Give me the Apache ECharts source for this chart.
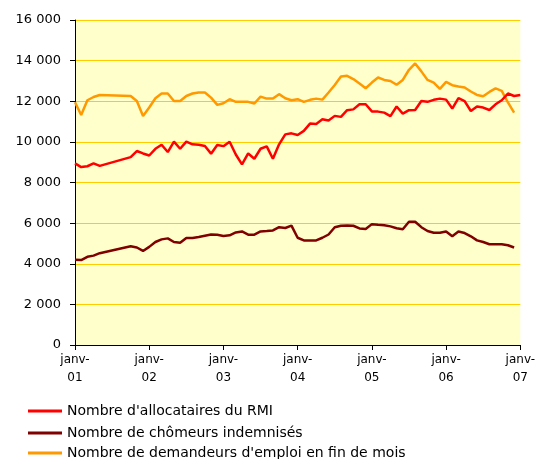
<!DOCTYPE html>
<html>
<head>
<meta charset="utf-8">
<script src="https://cdn.jsdelivr.net/npm/echarts@6/dist/echarts.min.js"></script>
<style>html,body{margin:0;padding:0;background:#fff;}#c{width:538px;height:459px;}</style>
</head>
<body>
<div id="c"></div>
<script>
var monthNames = ['janv','févr','mars','avr','mai','juin','juil','août','sept','oct','nov','déc'];
var years = ['01','02','03','04','05','06','07'];
var seriesNames = ["Nombre d'allocataires du RMI", "Nombre de chômeurs indemnisés", "Nombre de demandeurs d'emploi en fin de mois"];

var rmi = [8940, 8760, 8800, 8940, 8820, null, null, null, null, 9250, 9550, 9430,
  9330, 9660, 9860, 9500, 10010, 9660, 10010, 9880, 9860, 9800, 9420, 9850,
  9790, 10010, 9380, 8890, 9430, 9170, 9660, 9780, 9170, 9880, 10370, 10420,
  10340, 10540, 10900, 10880, 11110, 11050, 11280, 11230, 11560, 11600, 11850, 11850,
  11500, 11490, 11440, 11270, 11740, 11390, 11560, 11570, 12010, 11970, 12070, 12130,
  12080, 11640, 12150, 12010, 11520, 11740, 11690, 11570, 11850, 12050, 12380, 12260,
  12310];

var chomeurs = [4200, 4180, 4340, 4400, 4520, null, null, null, null, 4860, 4800, 4630,
  4830, 5070, 5200, 5250, 5070, 5030, 5270, 5270, 5320, 5380, 5440, 5430,
  5370, 5400, 5540, 5590, 5430, 5430, 5590, 5610, 5640, 5800, 5760, 5880,
  5280, 5150, 5150, 5150, 5280, 5440, 5800, 5870, 5880, 5870, 5740, 5710,
  5950, 5920, 5900, 5840, 5750, 5700, 6070, 6070, 5800, 5610, 5530, 5530,
  5590, 5350, 5590, 5510, 5350, 5150, 5070, 4960, 4960, 4960, 4910, 4800];

var demandeurs = [11950, 11320, 12050, 12210, 12310, null, null, null, null, 12260, 12010, 11270,
  11690, 12150, 12380, 12380, 12010, 12010, 12260, 12380, 12430, 12430, 12180, 11820,
  11900, 12100, 11970, 11970, 11970, 11890, 12230, 12130, 12130, 12350, 12150, 12050,
  12100, 11970, 12070, 12130, 12080, 12430, 12800, 13220, 13250, 13090, 12870, 12640,
  12920, 13170, 13050, 13000, 12810, 13050, 13550, 13860, 13470, 13050, 12920, 12610,
  12950, 12790, 12730, 12680, 12480, 12310, 12250, 12460, 12630, 12510, 11940, 11440];

var categories = [];
for (var y = 0; y < years.length; y++) {
  for (var m = 0; m < 12; m++) {
    if (y === years.length - 1 && m > 0) break;
    categories.push(monthNames[m] + '-' + years[y]);
  }
}

var font = 'DejaVu Sans';
var legendTops = [404, 426, 446];
var legends = seriesNames.map(function (n, i) {
  return {
    orient: 'vertical', left: 28, top: legendTops[i], padding: 0,
    itemWidth: 34, itemHeight: 3, icon: 'rect', itemGap: 0,
    textStyle: {color: '#000', fontFamily: font, fontSize: 14},
    data: [n]
  };
});

var chart = echarts.init(document.getElementById('c'), null, {renderer: 'canvas'});
chart.setOption({
  animation: false,
  backgroundColor: '#ffffff',
  grid: {left: 75, right: 8, top: 20, bottom: 114, show: true, backgroundColor: '#FFFFCC', borderWidth: 0},
  xAxis: {
    type: 'category',
    data: categories,
    boundaryGap: false,
    axisLine: {show: true, lineStyle: {color: '#000', width: 1}},
    axisTick: {show: true, length: 5, lineStyle: {color: '#000'}, interval: function (i) { return i % 12 === 0; }},
    axisLabel: {
      interval: function (i) { return i % 12 === 0; },
      color: '#000', fontFamily: font, fontSize: 12, lineHeight: 18, margin: 6,
      formatter: function (v) { return v.replace('-', '-\n'); }
    },
    splitLine: {show: false}
  },
  yAxis: {
    type: 'value',
    min: 0, max: 16000, interval: 2000,
    axisLine: {show: true, lineStyle: {color: '#000', width: 1}},
    axisTick: {show: true, length: 5, lineStyle: {color: '#000'}},
    axisLabel: {
      color: '#000', fontFamily: font, fontSize: 13, margin: 14,
      formatter: function (v) { return String(v).replace(/\B(?=(\d{3})+(?!\d))/g, ' '); }
    },
    splitLine: {show: true, lineStyle: {color: '#FFCC00', width: 1}}
  },
  legend: legends,
  series: [
    {name: seriesNames[0], type: 'line', data: rmi, connectNulls: true, showSymbol: false, symbol: 'none',
     lineStyle: {color: '#FF0000', width: 2.5}, itemStyle: {color: '#FF0000'}, z: 3},
    {name: seriesNames[1], type: 'line', data: chomeurs, connectNulls: true, showSymbol: false, symbol: 'none',
     lineStyle: {color: '#800000', width: 2.5}, itemStyle: {color: '#800000'}, z: 2},
    {name: seriesNames[2], type: 'line', data: demandeurs, connectNulls: true, showSymbol: false, symbol: 'none',
     lineStyle: {color: '#FF9900', width: 2.5}, itemStyle: {color: '#FF9900'}, z: 1}
  ]
});
</script>
</body>
</html>
